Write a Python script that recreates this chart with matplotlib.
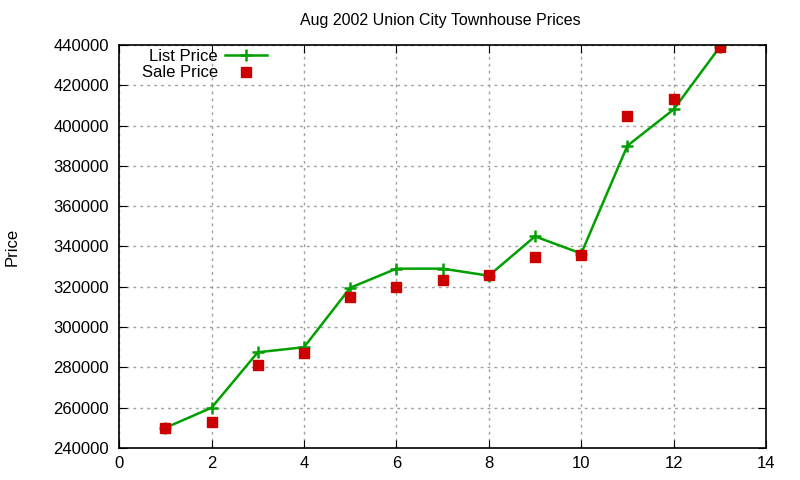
import matplotlib
matplotlib.use("Agg")
import matplotlib.pyplot as plt

# data
months = [1, 2, 3, 4, 5, 6, 7, 8, 9, 10, 11, 12, 13]
list_price = [250000, 260000, 287500, 290000, 319500, 329000, 329000, 325500,
              345000, 336500, 390000, 408000, 439000]
sale_price = [250000, 253000, 281000, 287000, 315000, 320000, 323500, 326000,
              335000, 336000, 405000, 413000, 439000]
title = "Aug 2002 Union City Townhouse Prices"

plt.rcParams['font.family'] = ['Liberation Sans', 'DejaVu Sans']
plt.rcParams['font.size'] = 12

fig = plt.figure(figsize=(8, 4.8), dpi=100)
ax = fig.add_axes([0.149, 0.0667, 0.8085, 0.8396])

ax.plot(months, list_price, color='#00a000', lw=1.8, marker='+',
        markersize=9, markeredgewidth=1.8, label='List Price')
ax.plot(months, sale_price, ls='none', marker='s', color='#cc0000',
        markersize=7, label='Sale Price')

ax.set_xlim(0, 14)
ax.set_ylim(240000, 440000)
ax.set_xticks(range(0, 15, 2))
ax.set_yticks(range(240000, 440001, 20000))
ax.grid(True, color='#a0a0a0', ls=(0, (2, 3)), lw=1)
ax.tick_params(direction='in', length=6, top=True, right=True)
ax.tick_params(axis='y', pad=7.5)
ax.tick_params(axis='x', pad=6)
for s in ax.spines.values():
    s.set_linewidth(1.2)

ax.set_ylabel('Price', labelpad=24)
fig.text(0.55, 0.958, title, ha='center', va='center', fontsize=11.5)

leg = ax.legend(loc='upper right', bbox_to_anchor=(0.2287, 0.99), frameon=False,
                markerfirst=False, handlelength=2.5, labelspacing=0.08,
                handletextpad=0.45, borderaxespad=0.0, borderpad=0.0)
for t in leg.get_texts():
    t.set_ha('right')
leg._legend_box.align = 'right'

fig.savefig('out.png', dpi=100)
